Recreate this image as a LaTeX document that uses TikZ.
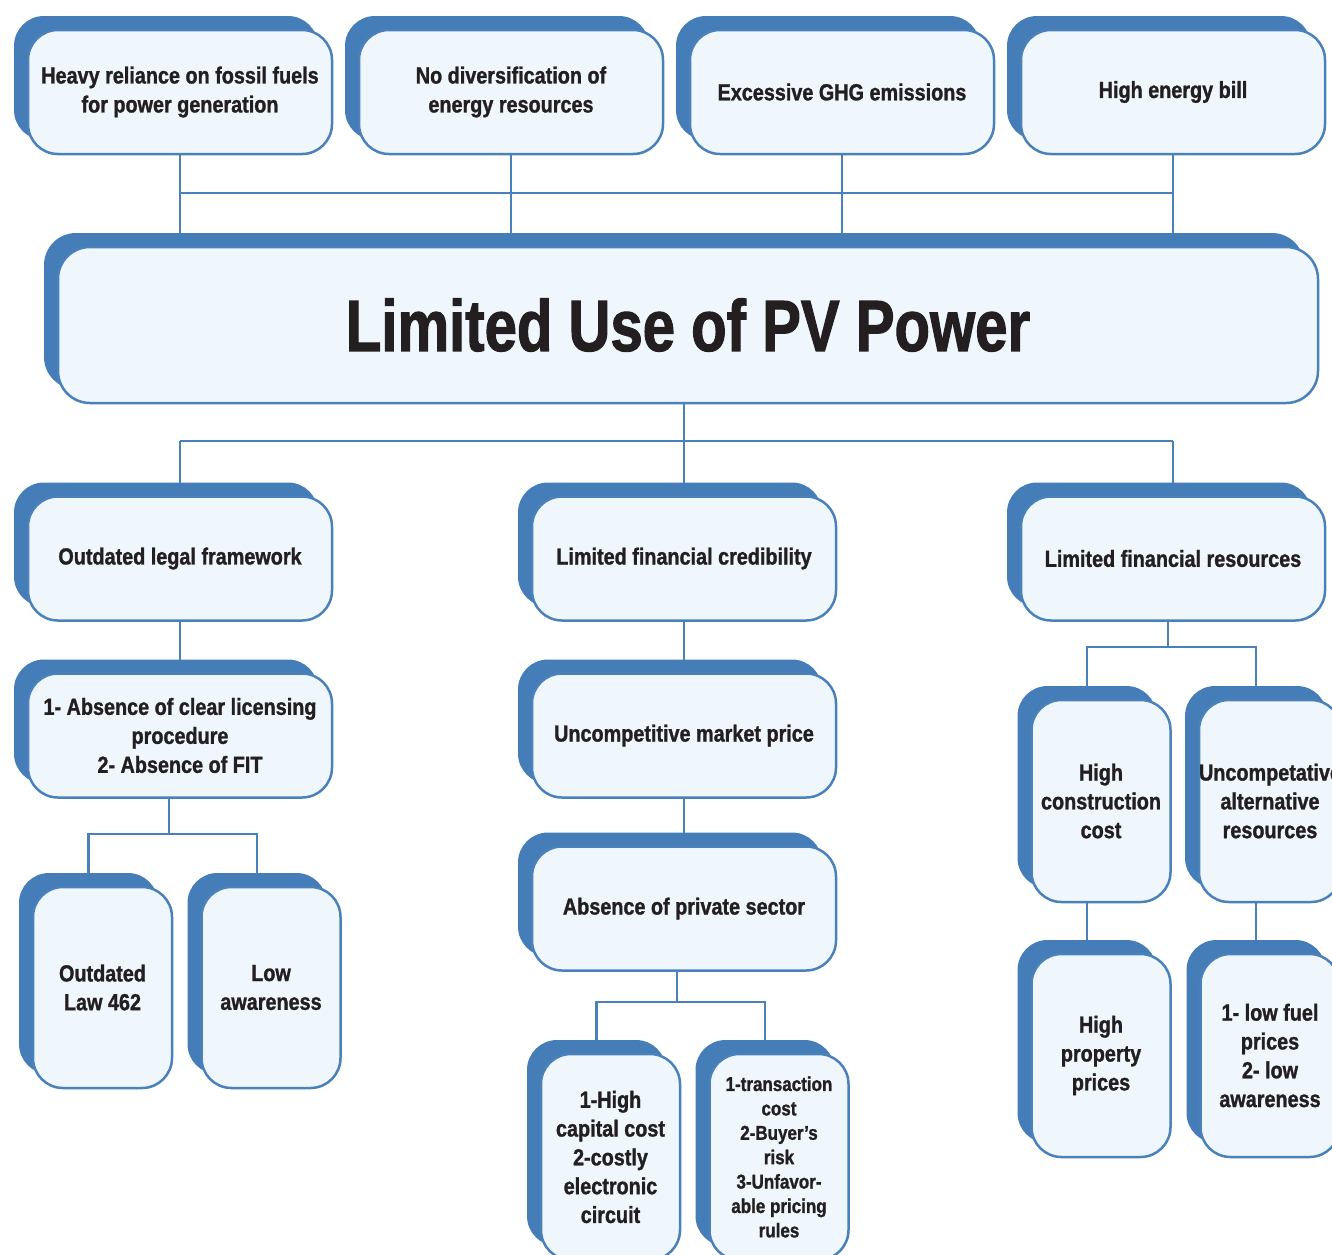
\documentclass[tikz,border=0pt]{standalone}
\usepackage{fontspec}
\setmainfont{Liberation Sans}[FakeStretch=0.85, BoldFeatures={FakeBold=1.2}]
\newfontfamily\titlefont{Liberation Sans}[FakeStretch=0.80, BoldFeatures={FakeBold=1.5}]
\usetikzlibrary{shadows,backgrounds,calc}
\definecolor{bord}{HTML}{4B81BB}
\definecolor{shad}{HTML}{447DB8}
\definecolor{boxfill}{HTML}{EFF7FD}
\definecolor{txt}{HTML}{231F20}
\tikzset{
  box/.style={draw=bord, line width=2.5pt, fill=boxfill, rounded corners=30pt,
    align=center, inner sep=0pt, text=txt,
    general shadow={shadow xshift=-14pt, shadow yshift=14pt, fill=shad},
    font=\bfseries\fontsize{23.3}{29}\selectfont},
  wide/.style={box, minimum width=304pt, minimum height=124pt},
  tall/.style={box, minimum width=139pt, minimum height=203pt, font=\bfseries\fontsize{23.3}{28.8}\selectfont},
  conn/.style={draw=bord, line width=2.6pt}
}
\begin{document}
\begin{tikzpicture}[x=1pt,y=-1pt]
\useasboundingbox (0,0) rectangle (1332,1254);
\clip (0,0) rectangle (1332,1254);
% top row
\node[wide] (t1) at (180,92) {Heavy reliance on fossil fuels\\for power generation};
\node[wide] (t2) at (511,92) {No diversification of\\energy resources};
\node[wide] (t3) at (842,92) {Excessive GHG emissions};
\node[wide] (t4) at (1173,92) {High energy bill};
% central
\node[box, minimum width=1260pt, minimum height=156pt, rounded corners=32pt] (big) at (688,325)
  {\titlefont\bfseries\fontsize{72.6}{80}\selectfont Limited Use of PV Power};
% second row
\node[wide] (legal) at (180,558.5) {Outdated legal framework};
\node[wide] (cred) at (684,558.5) {Limited financial credibility};
\node[wide] (res) at (1173,558.5) {Limited financial resources};
% third row
\node[wide] (lic) at (180,735.5) {1- Absence of clear licensing\\procedure\\2- Absence of FIT};
\node[wide] (mkt) at (684,735.5) {Uncompetitive market price};
\node[wide] (priv) at (684,908.5) {Absence of private sector};
% left tall
\node[tall, minimum height=201pt] (law) at (102.5,987.5) {Outdated\\Law 462};
\node[tall, minimum height=201pt] (aware) at (271,987.5) {Low\\awareness};
% middle tall
\node[tall, minimum height=206pt] (cap) at (610.5,1157) {1-High\\capital cost\\2-costly\\electronic\\circuit};
\node[tall, minimum height=206pt, font=\bfseries\fontsize{20}{24.4}\selectfont] (trans) at (779,1157)
  {1-transaction\\cost\\2-Buyer’s\\risk\\3-Unfavor-\\able pricing\\rules};
% right tall
\node[tall, minimum height=202pt] (cons) at (1101,801) {High\\construction\\cost};
\node[tall, minimum height=202pt] (alt) at (1270,801) {Uncompetative\\alternative\\resources};
\node[tall, minimum height=203pt] (prop) at (1101,1055.5) {High\\property\\prices};
\node[tall, minimum height=203pt] (fuel) at (1270,1055.5) {1- low fuel\\prices\\2- low\\awareness};
% junction coordinates
\coordinate (h1) at (0,193);
\coordinate (h2) at (0,441);
\coordinate (jL) at (169,834);
\coordinate (jM) at (677,1002);
\coordinate (jR) at (1168,647);
\coordinate (lawT) at ([xshift=-14pt]law.north);
\coordinate (awareT) at ([xshift=-14pt]aware.north);
\coordinate (capT) at ([xshift=-14pt]cap.north);
\coordinate (transT) at ([xshift=-14pt]trans.north);
\coordinate (consT) at ([xshift=-14pt]cons.north);
\coordinate (altT) at (1256,700);
\coordinate (propT) at ([xshift=-14pt]prop.north);
\coordinate (fuelT) at (1256,954);
\begin{scope}[on background layer]
% top connectors
\foreach \n in {t1,t2,t3,t4} \draw[conn] (\n.south) -- (\n.south |- big.north);
\draw[conn] (t1.south |- h1) -- (t4.south |- h1);
% big to second row
\draw[conn] (cred.north |- big.south) -- (cred.north);
\draw[conn] (legal.north |- h2) -- (res.north |- h2);
\draw[conn] (legal.north |- h2) -- (legal.north);
\draw[conn] (res.north |- h2) -- (res.north);
% left column
\draw[conn] (legal.south) -- (lic.north);
\draw[conn] (jL |- lic.south) -- (jL);
\draw[conn] (lawT) -- (lawT |- jL) -- (awareT |- jL) -- (awareT);
% middle column
\draw[conn] (cred.south) -- (mkt.north);
\draw[conn] (mkt.south) -- (priv.north);
\draw[conn] (jM |- priv.south) -- (jM);
\draw[conn] (capT) -- (capT |- jM) -- (transT |- jM) -- (transT);
% right column
\draw[conn] (jR |- res.south) -- (jR);
\draw[conn] (consT) -- (consT |- jR) -- (altT |- jR) -- (altT);
\draw[conn] (consT |- cons.south) -- (propT);
\draw[conn] (altT |- alt.south) -- (fuelT);
\end{scope}
\end{tikzpicture}
\end{document}
